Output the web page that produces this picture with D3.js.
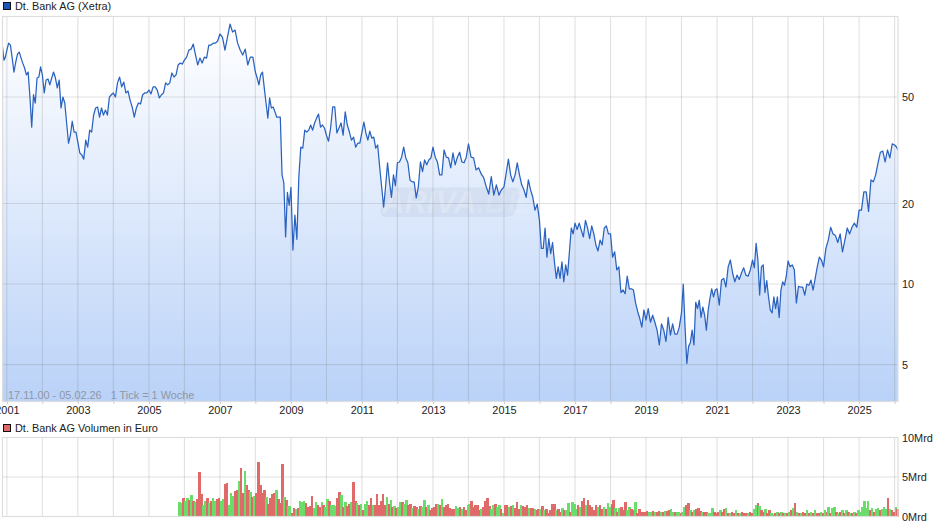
<!DOCTYPE html>
<html><head><meta charset="utf-8">
<script src="https://cdn.jsdelivr.net/npm/d3@7"></script>
<style>html,body{margin:0;padding:0;background:#fff}svg{display:block}text{font-family:"Liberation Sans",Arial,sans-serif}</style>
</head><body><svg id="c" width="940" height="526"></svg>
<script>
const priceTitle="Dt. Bank AG (Xetra)", volumeTitle="Dt. Bank AG Volumen in Euro", rangeNote="17.11.00 - 05.02.26   1 Tick = 1 Woche";
const priceTicks=[5,10,20,50], volumeTicks=[0,5,10];
const yearLabels=[2001,2003,2005,2007,2009,2011,2013,2015,2017,2019,2021,2023,2025];
const p2000=[76.9,68.7,70.5];
const p2001=[74.9,79.5,78.2,69.9,62,67.6,72.4,73.6,69.9,66.8,64.2,60.5,62,50,38.6,51,47.5,58.9,59.4,64.8];
const p2002=[60.5,51.8,57.9,58.4,55.5,58.9,62,58.9,54.1,57.9,45.5,50,47.5,40,33.6,36,40.6,37,37];
const p2003=[33.9,30.9,30.4,29.3,34.5,32.5,37.6,37,42.8,45.5,45.9,42.1,45.5,42.8,44.7,42.8,50,51];
const p2004=[51.8,50,56.5,59.4,54.6,56.9,51.8,52.7,48.7,45.9,42.1,45.5,47.5,47.1,51,51.8,51.8];
const p2005=[53.1,51.4,54.6,54.6,53.1,49.6,51,51.8,56.5,55.5,56.5,61.5,59.4,60.5,65.9,67,66.4];
const p2006=[68.7,70.5,74.9,75.5,78.9,71.8,65.9,69.9,67,70.5,69.9,78.2,78.2,79.5,79.5,81];
const p2007=[86,83.8,74.9,83.8,93.7,87.5,89,79.5,74.9,71.8,75.5,65.9,70.5,70.5];
const p2008=[62,58.9,55.5,60.5,62,54.1,47.5,41.7,49.6,45.5,45.9,44,42.1,42.1,42.1,25.6,23.9,15,22,19.7];
const p2009=[23,13.4,18.1,14.7,25.2,32.5,32.2,37.6,37,37.6,39.3,37.6,40,41.7,43.2,38.6,39.3,38.3];
const p2010=[36,34.2,38.3,45.9,45.9,36.7,38.3,40,36,44,39.3,37,34.5,35.4,32.5,33.6,33.6];
const p2011=[37,40.3,36.7,34.5,37.3,35.1,35.4,32.2,33.1,27.4,23.1,19.4,23.1,28.4,24,21.1,25.6,23.3];
const p2012=[28.4,28.6,29.8,32.5,29.6,28.4,24.5,24.1,24.1,21,23.1,28.6,26.3,29.1,27.9,29.1,29.6];
const p2013=[32.5,29.8,28.6,25.6,25.6,31.7,29.8,29.6,27.2,30.9,27.9,29.8,31.1,28.6,28.4,29.8];
const p2014=[33.4,29.8,29.6,26.7,27.2,25.8,25,23.1,21.7,25.2,21.5,23.5,21.5,22.5];
const p2015=[23.1,26,29.3,25.6,24.1,25.6,28.4,25.6,23.5,22.5,21.1,24.5,22.5,21.1,18.9,19.9];
const p2016=[17.3,13.6,13.6,16.2,12.6,14.8,13,14.3,12.1,10.5,11.6,10.5,12.1,10.2,11.8,10.8,13.2,16.2,15.4];
const p2017=[16.9,16,16.9,15.9,15,17.3,16.2,14.8,16.5,15.4,14,13.3,14.6,14,16.2,16.5,15.4];
const p2018=[15.4,12.6,13.2,11.3,11.6,9.3,9.5,9.2,10.7,9.6,9.6,9.5,8.5,7.9,7.45,6.9,8];
const p2019=[7.34,8.1,7.2,7.65,7.2,6.73,5.92,7.1,6.73,6.1,7.5,6.45,7.1,6.5,6.5,6.9];
const p2020=[7.8,10,6.9,5.05,5.85,6.05,6.73,5.92,8.55,8.1,8.7,7.5,8.2,7.65,6.73,8,8.85,9.6,8.95,9.5];
const p2021=[9.6,8.35,10.35,10.5,9.75,11.6,12.3,11,10.2,10.8,10.4,11,11.5,10.8,10.7,11.3];
const p2022=[12.3,11.5,14.2,12.3,9.1,11.6,11.8,9.3,10.3,8.95,8,7.8,8.95,8.1,8.95,7.5,9.5,10.2,9.9,10.7];
const p2023=[12.2,11.6,11.8,11.3,8.5,9.8,9.75,9.75,9.1,10,9.9,10.35,9.5,10.5,11.6,12.6,12.3];
const p2024=[11.6,13.6,14.6,16.3,15.4,15.2,14.3,15.4,13.2,14.6,16.2,15.4,16.3,16.9,16.3];
const p2025=[18.9,18.9,22.1,22.1,18.7,24.5,24.1,25.6,28.4,31.1,31.4,28.6,31.7,29.6,33.4];
const p2026=[33.1,32.6,31.7];
// volumes in Mrd Euro; positive = green week, negative = red week
const v2005=[1.8,1.7,-2.4];
const v2006=[1.9,2.4,-2.1,2.7,-2,1.8,-2.2,-5.6,-2.8,1.5,1.9,-2.3,1.7,-2,2.3,2,-2.2,-2.3];
const v2007=[2,2.2,-4.1,-4.3,1.5,3,2.6,-3.2,-3.3,4.5,-6.2,-3,5.7,-4,-3.3,3.1,-2.5,2.6];
const v2008=[-3,-6.9,-4,-3,-3.3,2.5,-1.6,-2.3,-2.9,-3,3.3,-2.2,-1.7,-6.7,2.5,-2.1,1.3,1.3];
const v2009=[-.5,-1.1,1,-1.1,2,1.8,1.9,-1.7,-1.2,-1.3,-2.6,1.1,1.8,-1.4,-1.2,1.8,-1.4,1.2];
const v2010=[2.2,-1.9,1.5,1.5,1.3,-2.3,-3.1,2.7,-1.2,1.8,-1.3,-1.6,1.8,-4.4,-2,1.7,-1.5,1.6];
const v2011=[-.8,1.6,1.9,-1.5,-2.4,1.5,-1.4,-2.9,-1.4,-1.9,-2.8,-1.5,2.5,-1.6,2.1,-1.2,1.35,-1.1];
const v2012=[1.2,1.8,-1.8,1.6,2.1,-1.4,-1.55,1.1,-1.3,-1.2,1,-1.3,1.2,2.1,-1.2,1.4,-.8,-1.1];
const v2013=[-1.2,-1.6,1.6,-1.4,2.2,-1.2,-1.4,-1.55,-1.1,-1,-1,1.3,1.1,-1.2,1,-1.2,-.8,1.4];
const v2014=[1.6,-1.9,-1.2,-1.5,-1.4,-.8,1,-1.2,-1.9,-2.4,-1.3,1,1.4,-1.6,1.2,1.4,-1,.5];
const v2015=[-1.4,-1.5,1.2,-1.35,1.4,-1.1,-1.8,-1,1.5,-1.35,-1.2,-1.5,1.1,-1.1,-1.1,.9,-.8,-.9];
const v2016=[1,-1.3,.85,-1,-.5,-.85,-1.6,-1.6,.85,-1,-.6,1.05,-.85,.85,1.7,-.6,1.8,1.55];
const v2017=[1,-1.5,1.25,-1.9,-2.4,1.4,-2.1,-1.4,-1.25,-.85,-1.5,1.15,-1.4,-1,1.25,-1,1.7,1.25];
const v2018=[-1.55,-2.1,1.05,-.6,1.05,-1.25,-.85,-1.8,.85,1.2,-1,-.85,1.8,-.4,-1,-.6,-.6,-.6];
const v2019=[-.7,.6,.6,-.7,.6,-.55,-.7,.55,-.6,.7,-.7,-.8,1,.6,-.6,.55,.6,-.4];
const v2020=[.6,1.15,-1.5,-1.7,.85,-.6,.85,-1,-1.05,-.7,.55,-.6,-.6,.4,.4,1.05,-.6,-.5];
const v2021=[-.6,.85,-.6,-.9,1.05,-.5,.4,-.6,-.5,.85,-.4,.5,-.6,-.4,-.5,.4,-.6,-.4];
const v2022=[.9,1.5,-1.7,1.35,-.85,-.6,.9,-.4,-.85,.5,.3,-.4,.6,-.5,.6,-.4,.5,-.4];
const v2023=[.6,-.85,1.05,-1.7,.6,-.5,.4,-.6,-.5,.85,-.4,.6,-.5,.85,-.4,-.5,.6,-.4];
const v2024=[.85,-.6,1.2,-.5,1.05,1.25,-.6,.4,-.6,.85,-.4,.85,-.6,.5,-.5,.6,-.4,.85];
const v2025=[.6,1.25,1.9,1.05,1.9,-.85,1.05,-.6,.9,1.05,-.85,.9,1.25,.9,-2.35,.9,-.85,-.6];
const v2026=[1.25,-.9];

const D=(y,m=0,d=1)=>new Date(y,m,d);
const startDate=D(2000,10,17), endDate=D(2026,1,5);
function spread(vals,a,b,closed){const n=closed?vals.length-1:vals.length;return vals.map((v,i)=>({t:new Date(+a+(b-a)*i/n),t2:new Date(+a+(b-a)*(i+1)/n),v}));}
const priceYears=[p2001,p2002,p2003,p2004,p2005,p2006,p2007,p2008,p2009,p2010,p2011,p2012,p2013,p2014,p2015,p2016,p2017,p2018,p2019,p2020,p2021,p2022,p2023,p2024,p2025];
const priceData=[...spread(p2000,startDate,D(2001)),...priceYears.flatMap((a,i)=>spread(a,D(2001+i),D(2002+i))),...spread(p2026,D(2026),endDate,true)];
const volYears=[v2006,v2007,v2008,v2009,v2010,v2011,v2012,v2013,v2014,v2015,v2016,v2017,v2018,v2019,v2020,v2021,v2022,v2023,v2024,v2025];
const volData=[...spread(v2005,D(2005,10,1),D(2006)),...volYears.flatMap((a,i)=>spread(a,D(2006+i),D(2007+i))),...spread(v2026,D(2026),endDate)];

const L=2.5,R=898,T1=16.5,B1=401.5,T2=437.5,B2=516.5;
const grid="rgba(119,119,119,.22)",frame="#dedede",ink="#222";
const svg=d3.select("#c");
const x=d3.scaleTime().domain([startDate,endDate]).range([L,R]);
const y=d3.scaleLog().domain([3.64,100]).range([B1,T1]);
const yv=d3.scaleLinear().domain([0,10]).range([B2,T2]);
const allYears=d3.range(2001,2027).map(v=>D(v));

const defs=svg.append("defs");
const g=defs.append("linearGradient").attr("id","fade").attr("gradientUnits","userSpaceOnUse").attr("x1",0).attr("x2",0).attr("y1",24).attr("y2",B1);
g.append("stop").attr("offset",0).attr("stop-color","#ffffff");
g.append("stop").attr("offset",1).attr("stop-color","#bad2f8");
defs.append("clipPath").attr("id","cp").append("rect").attr("x",L).attr("y",T1).attr("width",R-L).attr("height",B1-T1);

// price area
svg.append("path").datum(priceData).attr("fill","url(#fade)").attr("clip-path","url(#cp)")
  .attr("d",d3.area().x(d=>x(d.t)).y0(B1).y1(d=>y(d.v)));

// watermark
const wm=svg.append("g");
wm.append("rect").attr("x",385).attr("y",187.5).attr("width",135).attr("height",29.5).attr("rx",7).attr("transform","skewX(-14) translate(48,0)").attr("fill","#8a9bb8").attr("opacity",.13);
const wt=wm.append("text").attr("x",382).attr("y",213).attr("font-size",31).attr("font-weight","bold").attr("font-style","italic").attr("fill","#ffffff");
wt.append("tspan").attr("fill-opacity",.22).text("ARIVA");
wt.append("tspan").attr("fill-opacity",.12).text(".DE");

// grids
function gridFor(top,bot,ys){
  const gg=svg.append("g").attr("stroke",grid).attr("stroke-width",1.1);
  gg.selectAll("line.v").data(allYears).join("line").attr("class","v").attr("x1",d=>x(d)).attr("x2",d=>x(d)).attr("y1",top).attr("y2",bot);
  gg.selectAll("line.h").data(ys).join("line").attr("class","h").attr("x1",L).attr("x2",R).attr("y1",d=>d).attr("y2",d=>d);
}
gridFor(T1,B1,priceTicks.map(y));
gridFor(T2,B2,volumeTicks.slice(1,2).map(yv));

// volume bars
svg.append("g").attr("shape-rendering","crispEdges").selectAll("rect").data(volData).join("rect")
  .attr("x",d=>x(d.t)).attr("width",d=>x(d.t2)-x(d.t)+.5)
  .attr("y",d=>yv(Math.abs(d.v))).attr("height",d=>B2-yv(Math.abs(d.v)))
  .attr("fill",d=>d.v<0?"#e06a6a":"#69dc69");

// price line
svg.append("path").datum(priceData).attr("fill","none").attr("stroke","#2a62c0").attr("stroke-width",1.25).attr("stroke-linejoin","round").attr("clip-path","url(#cp)")
  .attr("d",d3.line().x(d=>x(d.t)).y(d=>y(d.v)));

// frames
[[T1,B1],[T2,B2]].forEach(([a,b])=>svg.append("rect").attr("x",L).attr("y",a).attr("width",R-L).attr("height",b-a).attr("fill","none").attr("stroke",frame).attr("stroke-width",1.2));

// axes
const ax=svg.append("g").attr("transform",`translate(0,${B1})`).call(d3.axisBottom(x).tickValues(allYears).tickSize(2.5).tickFormat(d=>yearLabels.includes(d.getFullYear())?d.getFullYear():""));
ax.select(".domain").remove();ax.selectAll("line").attr("stroke","#ccc");
ax.selectAll("text").attr("font-size",10.9).attr("fill",ink).attr("dy",0).attr("y",12).attr("font-family",'"Liberation Sans"');
const ay=svg.append("g").attr("transform",`translate(${R},0)`).call(d3.axisRight(y).tickValues(priceTicks).tickSize(0).tickFormat(d3.format("d")));
ay.select(".domain").remove();
ay.selectAll("text").attr("font-size",10.9).attr("fill",ink).attr("x",4).attr("font-family",'"Liberation Sans"');
const av=svg.append("g").attr("transform",`translate(${R},0)`).call(d3.axisRight(yv).tickValues(volumeTicks).tickSize(0).tickFormat(d=>d+"Mrd"));
av.select(".domain").remove();
av.selectAll("text").attr("font-size",10.9).attr("fill",ink).attr("x",4).attr("font-family",'"Liberation Sans"');

// legends & note
svg.append("rect").attr("x",3.5).attr("y",2.5).attr("width",7).attr("height",7).attr("fill","#1b55b8").attr("stroke","#111");
svg.append("text").attr("x",15).attr("y",10).attr("font-size",10.9).attr("fill",ink).text(priceTitle);
svg.append("rect").attr("x",3.5).attr("y",424.5).attr("width",7).attr("height",7).attr("fill","#e06a6a").attr("stroke","#111");
svg.append("text").attr("x",15).attr("y",432).attr("font-size",10.9).attr("fill",ink).text(volumeTitle);
svg.append("text").attr("x",8).attr("y",399).attr("font-size",10.9).attr("fill","#8f97a5").style("white-space","pre").text(rangeNote);
</script></body></html>
